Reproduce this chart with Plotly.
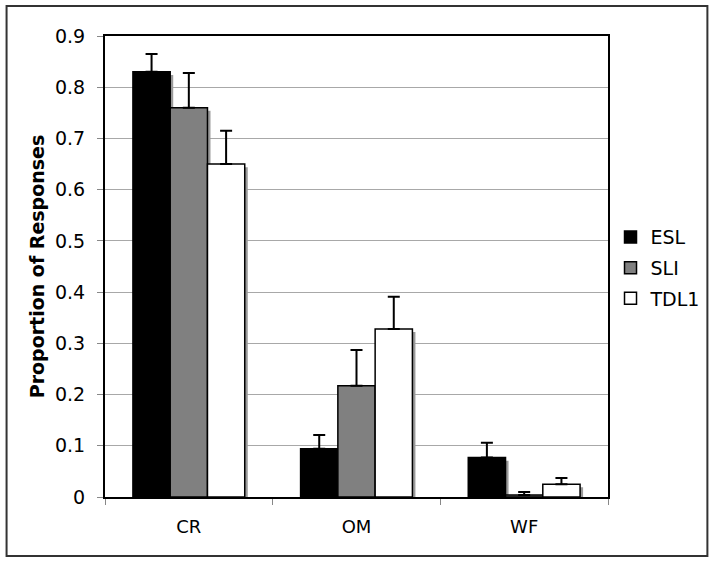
import plotly.graph_objects as go

# categories and series values
categories = ["CR", "OM", "WF"]
groups = ["ESL", "SLI", "TDL1"]
means = {
    "ESL": [0.830, 0.094, 0.077],
    "SLI": [0.760, 0.217, 0.004],
    "TDL1": [0.650, 0.328, 0.025],
}
errors = {
    "ESL": [0.035, 0.027, 0.029],
    "SLI": [0.068, 0.070, 0.006],
    "TDL1": [0.065, 0.063, 0.012],
}
colors = {"ESL": "#000000", "SLI": "#808080", "TDL1": "#ffffff"}

FONT = "DejaVu Sans"
bar_w = 0.2223
offsets = [-1.5 * bar_w, -0.5 * bar_w, 0.5 * bar_w]

fig = go.Figure()

# drop shadows first, so the bars sit on top of them
for g, off in zip(groups, offsets):
    fig.add_trace(go.Bar(
        x=categories, y=means[g], base=-0.006,
        width=bar_w, offset=off + 0.018,
        marker=dict(color="#9a9a9a", line=dict(width=0)),
        showlegend=False, hoverinfo="skip",
    ))

for g, off in zip(groups, offsets):
    fig.add_trace(go.Bar(
        x=categories, y=means[g], name=g, legendgroup=g,
        width=bar_w, offset=off,
        marker=dict(color=colors[g], line=dict(color="black", width=1.5)),
        error_y=dict(type="data", array=errors[g], arrayminus=[0, 0, 0],
                     symmetric=False, color="black", thickness=2, width=6),
    ))

fig.update_layout(
    width=718, height=564,
    margin=dict(l=105, r=107, t=36, b=67),
    paper_bgcolor="white", plot_bgcolor="white",
    font=dict(family=FONT, color="black", size=19),
    barmode="overlay",
    legend=dict(x=1.005, y=0.605, xanchor="left", yanchor="top",
                font=dict(size=19), bgcolor="rgba(0,0,0,0)",
                itemwidth=30, tracegroupgap=3),
    xaxis=dict(
        showline=True, linecolor="black", linewidth=2, mirror=True,
        ticks="outside", tickson="boundaries", ticklen=6, tickcolor="#888",
        tickfont=dict(size=18), ticklabelstandoff=12, showgrid=False,
    ),
    yaxis=dict(
        range=[0, 0.9], dtick=0.1, showline=True, linecolor="black",
        linewidth=2, mirror=True, ticks="outside", ticklen=6, tickcolor="#888",
        showgrid=True, gridcolor="#a8a8a8", gridwidth=1, zeroline=False,
        tickfont=dict(size=19), ticklabelstandoff=8,
        title=dict(text="<b>Proportion of Responses</b>", font=dict(size=19),
                   standoff=5),
    ),
    shapes=[dict(type="rect", xref="paper", yref="paper",
                 x0=-0.1957, x1=1.1976, y0=-0.128, y1=1.065,
                 line=dict(color="#333", width=2))],
)

fig.write_html("out.html", config={"displayModeBar": False},
               post_script="document.body.style.margin='0px';")
